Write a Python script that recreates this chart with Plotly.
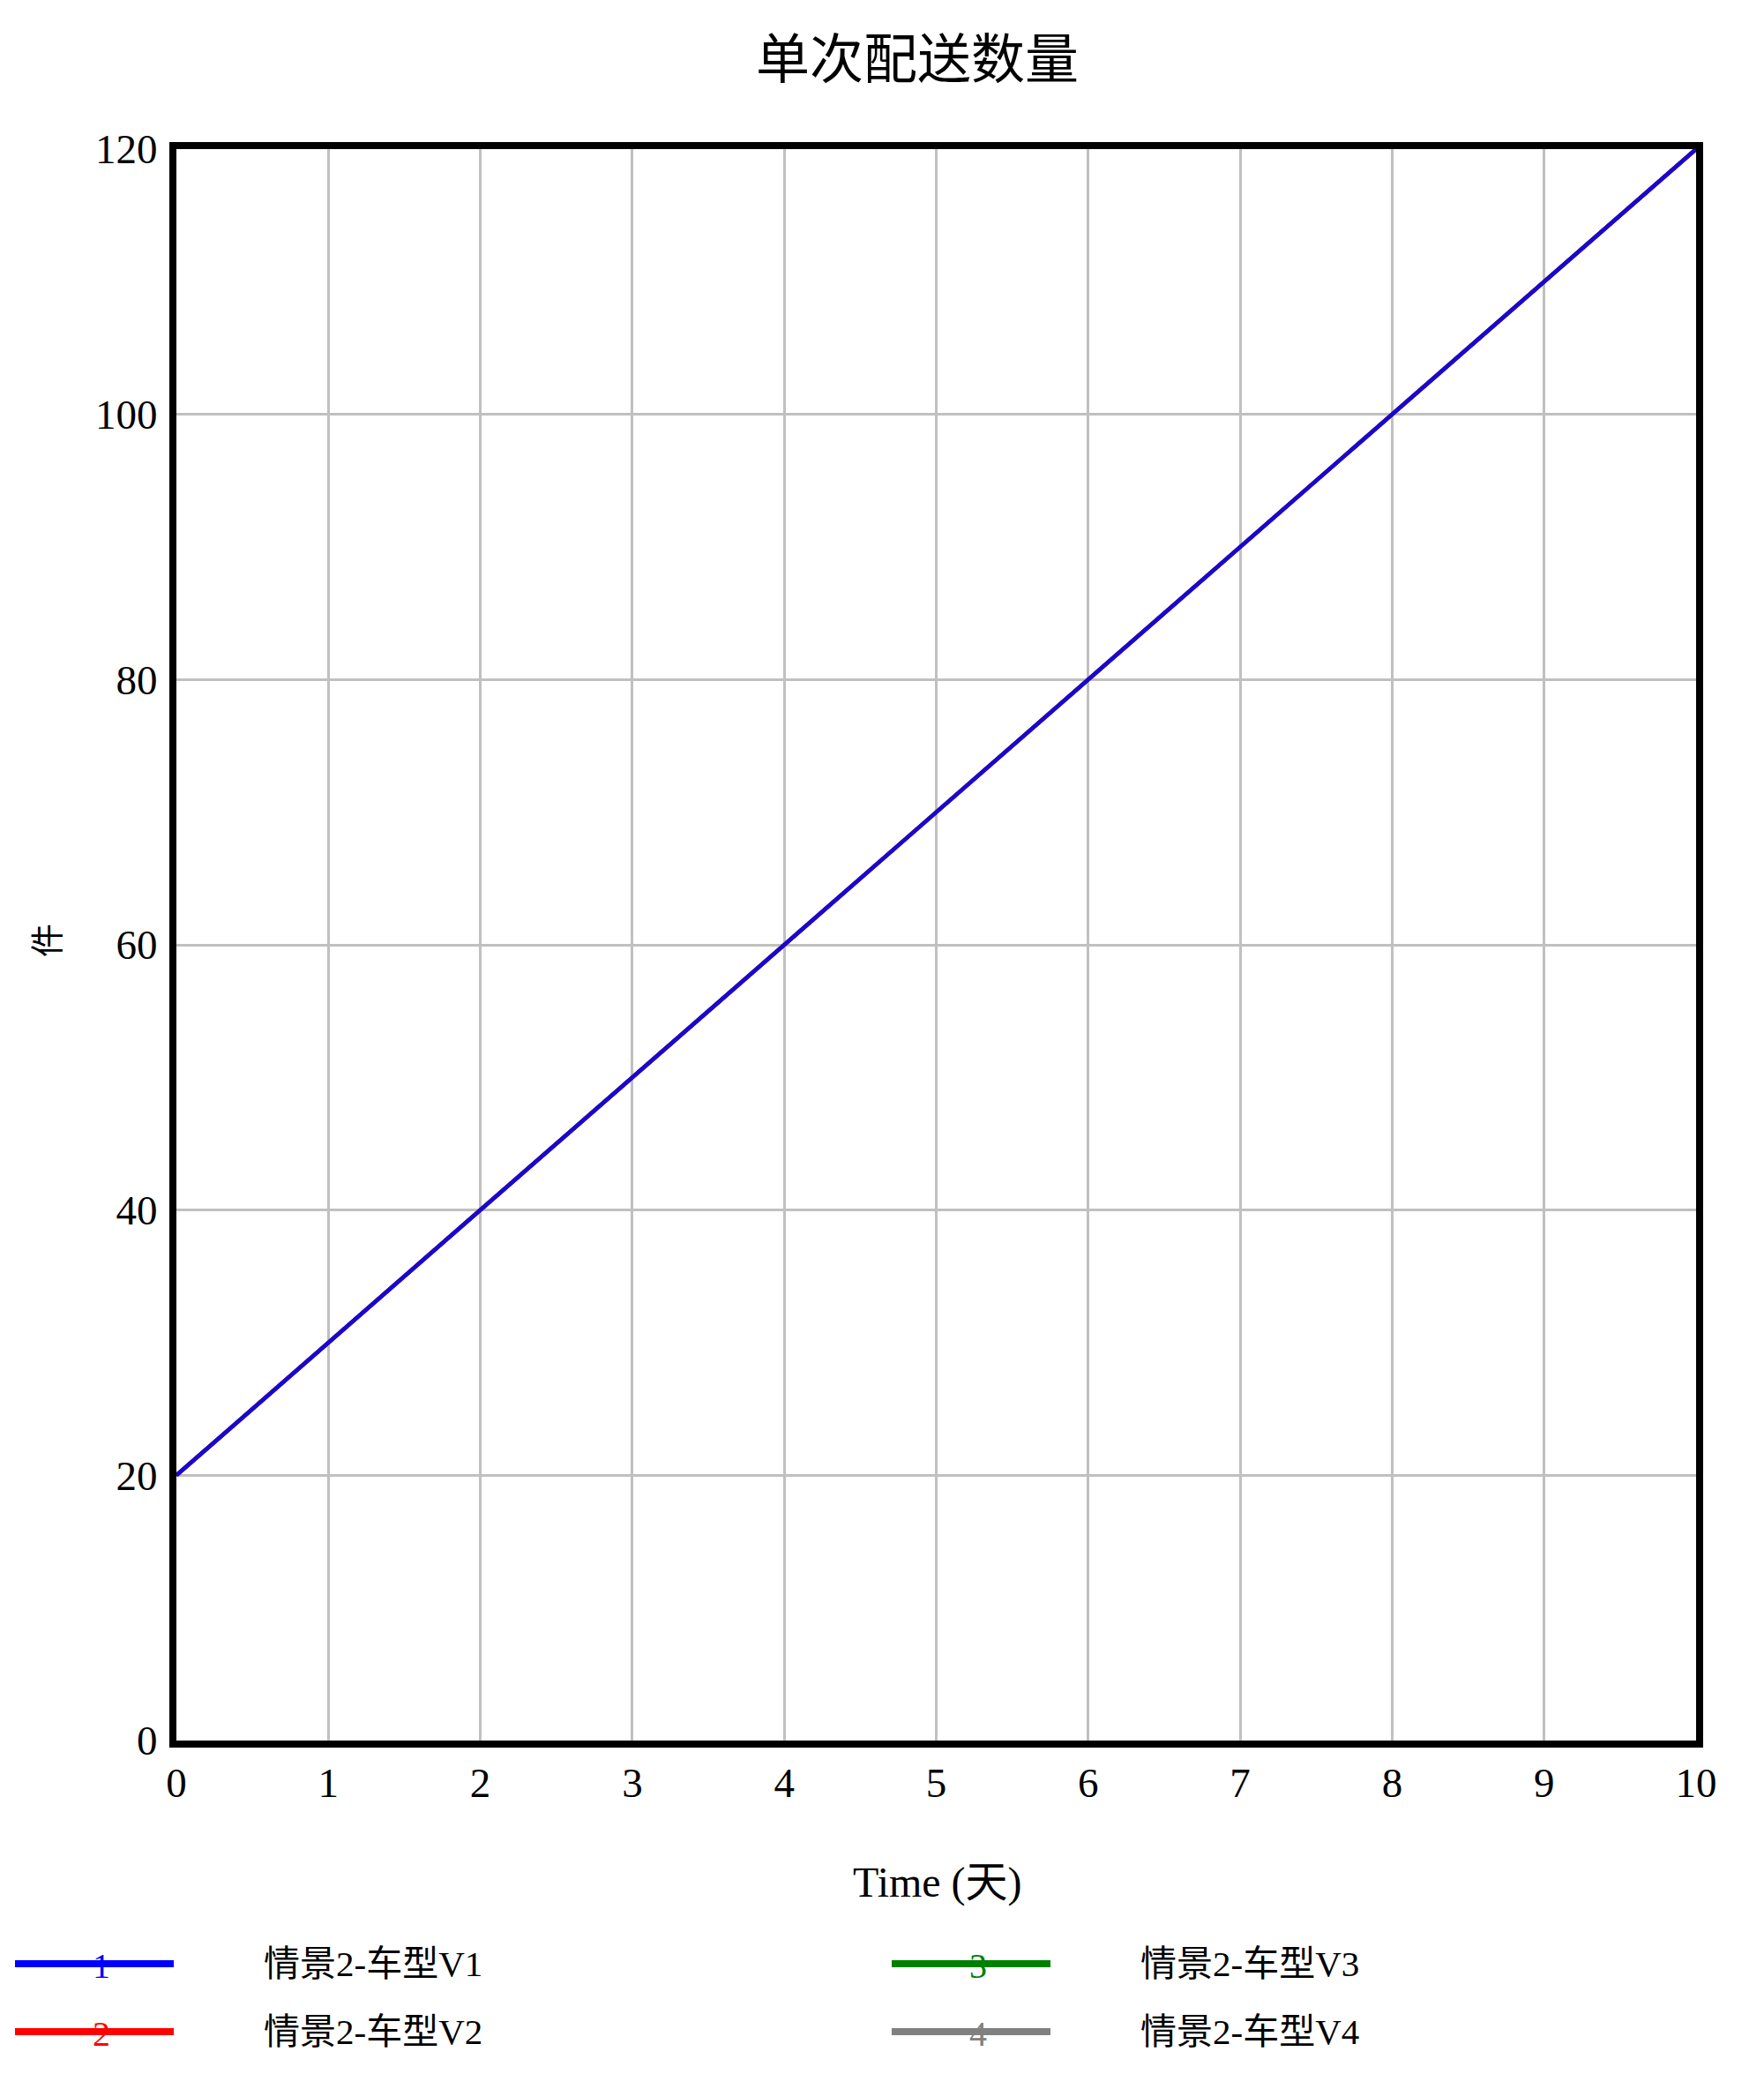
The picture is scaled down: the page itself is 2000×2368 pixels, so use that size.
import plotly.graph_objects as go

# ---- data ----
time_days = [0, 1, 2, 3, 4, 5, 6, 7, 8, 9, 10]
v1 = [20, 30, 40, 50, 60, 70, 80, 90, 100, 110, 120]
v2 = [20, 30, 40, 50, 60, 70, 80, 90, 100, 110, 120]
v3 = [20, 30, 40, 50, 60, 70, 80, 90, 100, 110, 120]
v4 = [20, 30, 40, 50, 60, 70, 80, 90, 100, 110, 120]
series_names = ["情景2-车型V1", "情景2-车型V2", "情景2-车型V3", "情景2-车型V4"]
series_labels = ["1", "2", "3", "4"]
x_ticks = [0, 1, 2, 3, 4, 5, 6, 7, 8, 9, 10]
y_ticks = [0, 20, 40, 60, 80, 100, 120]
title_text = "单次配送数量"
x_title = "Time (天)"
y_title = "件"

colors = ["#0000ff", "#ff0000", "#008000", "#808080"]
series = [v1, v2, v3, v4]

OFF = 8  # default body margin of the html page
W, H = 2000 - 2 * OFF, 2368 - 2 * OFF
L, R, T, B = 200 - OFF, 1923 - OFF, 169 - OFF, 1973 - OFF
FONT = "Liberation Serif, 'Noto Sans CJK SC', serif"


def px_x(px):
    return (px - OFF - L) / (R - L)


def px_y(py):
    return (B - (py - OFF)) / (B - T)


fig = go.Figure()
# draw in reverse so series 1 (blue) sits on top
for i in reversed(range(4)):
    fig.add_trace(go.Scatter(
        x=time_days, y=series[i], mode="lines", name=series_names[i],
        line=dict(color=colors[i] if i else "#1408d8", width=4.5), showlegend=False))

axis_common = dict(
    showline=True, linecolor="black", linewidth=8, mirror=True,
    showgrid=True, gridcolor="#c0c0c0", gridwidth=3,
    zeroline=False, ticks="", tickfont=dict(family=FONT, size=47, color="black"),
)

fig.update_xaxes(range=[0, 10], tickvals=x_ticks, ticktext=[str(t) for t in x_ticks],
                 ticklabelstandoff=0, **axis_common)
fig.update_yaxes(range=[0, 120], tickvals=y_ticks, ticktext=[str(t) for t in y_ticks],
                 ticklabelstandoff=4, **axis_common)

annotations = [
    dict(text=title_text, xref="paper", yref="paper", x=px_x(1040), y=px_y(68),
         showarrow=False, font=dict(family=FONT, size=61, color="black"),
         xanchor="center", yanchor="middle"),
    dict(text=x_title, xref="paper", yref="paper", x=px_x(1063), y=px_y(2134),
         showarrow=False, font=dict(family=FONT, size=48, color="black"),
         xanchor="center", yanchor="middle"),
    dict(text=y_title, xref="paper", yref="paper", x=px_x(54), y=px_y(1066),
         showarrow=False, textangle=-90, font=dict(family=FONT, size=38, color="black"),
         xanchor="center", yanchor="middle"),
]

shapes = []
legend_pos = [(17, 2226), (17, 2303), (1011, 2226), (1011, 2303)]
for i in range(4):
    x0, yy = legend_pos[i]
    shapes.append(dict(type="line", xref="paper", yref="paper",
                       x0=px_x(x0), x1=px_x(x0 + 180), y0=px_y(yy), y1=px_y(yy),
                       line=dict(color=colors[i], width=8)))
    annotations.append(dict(text=series_labels[i], xref="paper", yref="paper",
                            x=px_x(x0 + 98), y=px_y(yy + 2), showarrow=False,
                            font=dict(family=FONT, size=40, color=colors[i]),
                            xanchor="center", yanchor="middle"))
    annotations.append(dict(text=series_names[i], xref="paper", yref="paper",
                            x=px_x(x0 + 280), y=px_y(yy), showarrow=False,
                            font=dict(family=FONT, size=41, color="black"),
                            xanchor="left", yanchor="middle"))

fig.update_layout(
    width=W, height=H,
    margin=dict(l=L, r=W - R, t=T, b=H - B, pad=0),
    paper_bgcolor="white", plot_bgcolor="white",
    annotations=annotations, shapes=shapes,
    font=dict(family=FONT, color="black"),
)

fig.write_html("out.html")
